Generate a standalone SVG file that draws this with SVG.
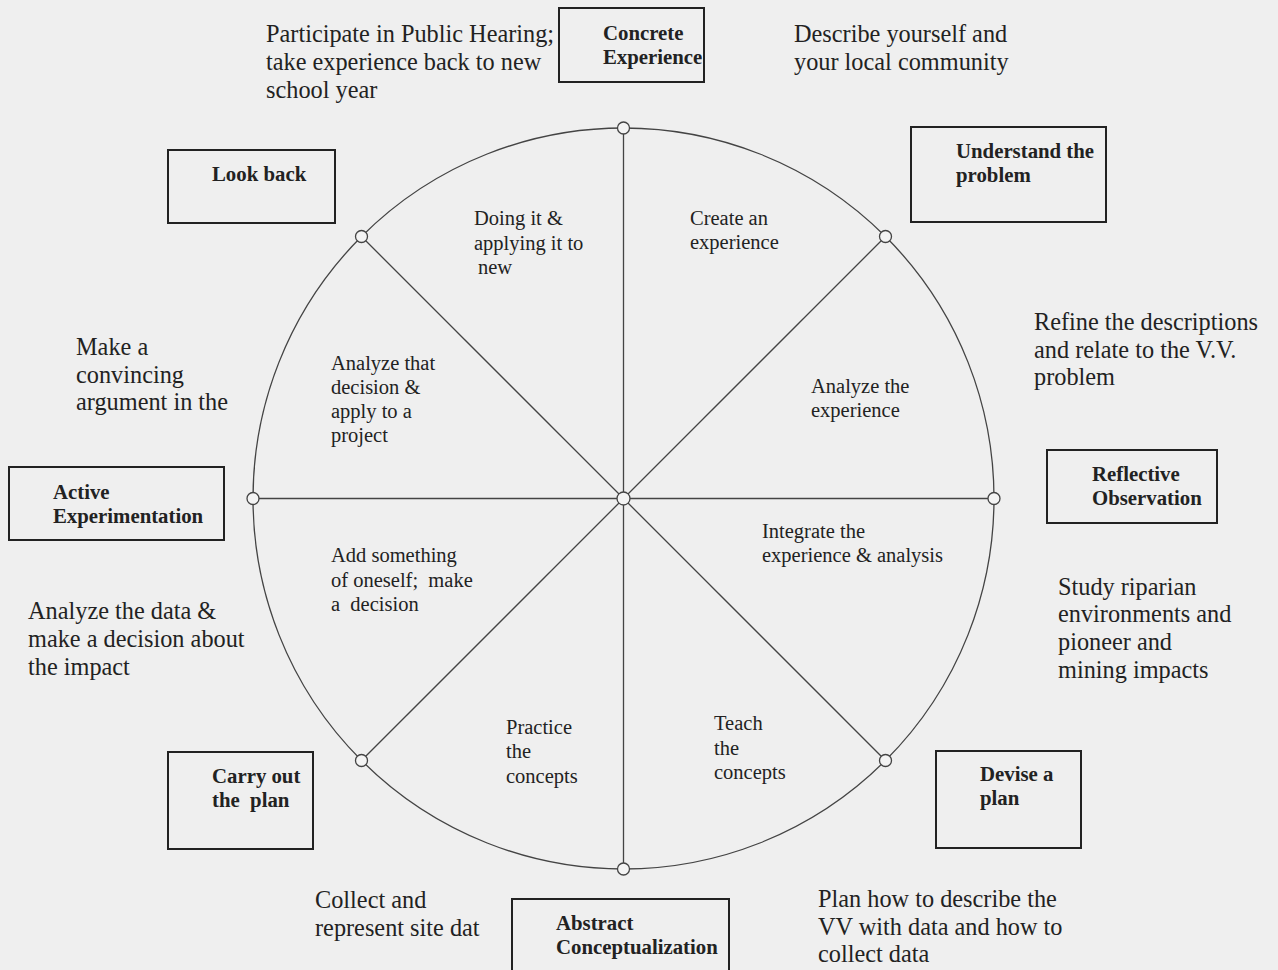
<svg xmlns="http://www.w3.org/2000/svg" width="1278" height="970" viewBox="0 0 1278 970">
<style>
.bg{fill:#efefef}
.box{fill:none;stroke:#222;stroke-width:2}
.ln{stroke:#444;stroke-width:1.3;fill:none}
.dot{fill:#f4f4f4;stroke:#444;stroke-width:1.3}
.bl{font-family:"Liberation Serif",serif;font-weight:bold;font-size:20.8px;fill:#222}
.out{font-family:"Liberation Serif",serif;font-size:24.3px;fill:#222}
.in{font-family:"Liberation Serif",serif;font-size:20.5px;fill:#222}
</style>
<rect class="bg" x="0" y="0" width="1278" height="970"/>
<g id="connectors">
<circle class="ln" cx="623.5" cy="498.5" r="370.5"/>
<line class="ln" x1="623.5" y1="128" x2="623.5" y2="869"/>
<line class="ln" x1="253" y1="498.5" x2="994" y2="498.5"/>
<line class="ln" x1="361.5" y1="236.5" x2="885.5" y2="760.5"/>
<line class="ln" x1="885.5" y1="236.5" x2="361.5" y2="760.5"/>
<circle class="dot" cx="623.5" cy="128" r="6"/>
<circle class="dot" cx="885.5" cy="236.5" r="6"/>
<circle class="dot" cx="994" cy="498.5" r="6"/>
<circle class="dot" cx="885.5" cy="760.5" r="6"/>
<circle class="dot" cx="623.5" cy="869" r="6"/>
<circle class="dot" cx="361.5" cy="760.5" r="6"/>
<circle class="dot" cx="253" cy="498.5" r="6"/>
<circle class="dot" cx="361.5" cy="236.5" r="6"/>
<circle class="dot" cx="623.5" cy="498.5" r="6.5"/>
</g>
<g id="concrete-experience">
<rect class="box" x="559" y="8" width="145" height="74"/>
<text class="bl" x="603" y="40">Concrete</text>
<text class="bl" x="603" y="64">Experience</text>
</g>
<g id="understand-problem">
<rect class="box" x="911" y="127" width="195" height="95"/>
<text class="bl" x="956" y="158">Understand the</text>
<text class="bl" x="956" y="182">problem</text>
</g>
<g id="look-back">
<rect class="box" x="168" y="150" width="167" height="73"/>
<text class="bl" x="212" y="181">Look back</text>
</g>
<g id="active-experimentation">
<rect class="box" x="9" y="467" width="215" height="73"/>
<text class="bl" x="53" y="499">Active</text>
<text class="bl" x="53" y="523">Experimentation</text>
</g>
<g id="reflective-observation">
<rect class="box" x="1047" y="450" width="170" height="73"/>
<text class="bl" x="1092" y="481">Reflective</text>
<text class="bl" x="1092" y="505">Observation</text>
</g>
<g id="carry-out-plan">
<rect class="box" x="168" y="752" width="145" height="97"/>
<text class="bl" x="212" y="783">Carry out</text>
<text class="bl" x="212" y="807" xml:space="preserve">the  plan</text>
</g>
<g id="devise-plan">
<rect class="box" x="936" y="751" width="145" height="97"/>
<text class="bl" x="980" y="781">Devise a</text>
<text class="bl" x="980" y="805">plan</text>
</g>
<g id="abstract-conceptualization">
<rect class="box" x="512" y="899" width="217" height="80"/>
<text class="bl" x="556" y="930">Abstract</text>
<text class="bl" x="556" y="954">Conceptualization</text>
</g>
<g id="outer-texts">
<text class="out" x="266" y="42">Participate in Public Hearing;</text>
<text class="out" x="266" y="70">take experience back to new</text>
<text class="out" x="266" y="98">school year</text>
<text class="out" x="794" y="42">Describe yourself and</text>
<text class="out" x="794" y="70">your local community</text>
<text class="out" x="1034" y="330">Refine the descriptions</text>
<text class="out" x="1034" y="358">and relate to the V.V.</text>
<text class="out" x="1034" y="385">problem</text>
<text class="out" x="76" y="355">Make a</text>
<text class="out" x="76" y="383">convincing</text>
<text class="out" x="76" y="410">argument in the</text>
<text class="out" x="1058" y="595">Study riparian</text>
<text class="out" x="1058" y="622">environments and</text>
<text class="out" x="1058" y="650">pioneer and</text>
<text class="out" x="1058" y="678">mining impacts</text>
<text class="out" x="28" y="619">Analyze the data &amp;</text>
<text class="out" x="28" y="647">make a decision about</text>
<text class="out" x="28" y="675">the impact</text>
<text class="out" x="315" y="908">Collect and</text>
<text class="out" x="315" y="936">represent site dat</text>
<text class="out" x="818" y="907">Plan how to describe the</text>
<text class="out" x="818" y="935">VV with data and how to</text>
<text class="out" x="818" y="962">collect data</text>
</g>
<g id="inner-texts">
<text class="in" x="474" y="225">Doing it &amp;</text>
<text class="in" x="474" y="250">applying it to</text>
<text class="in" x="478" y="274">new</text>
<text class="in" x="690" y="225">Create an</text>
<text class="in" x="690" y="249">experience</text>
<text class="in" x="331" y="370">Analyze that</text>
<text class="in" x="331" y="394">decision &amp;</text>
<text class="in" x="331" y="418">apply to a</text>
<text class="in" x="331" y="442">project</text>
<text class="in" x="811" y="393">Analyze the</text>
<text class="in" x="811" y="417">experience</text>
<text class="in" x="762" y="538">Integrate the</text>
<text class="in" x="762" y="562">experience &amp; analysis</text>
<text class="in" x="331" y="562">Add something</text>
<text class="in" x="331" y="587" xml:space="preserve">of oneself;  make</text>
<text class="in" x="331" y="611" xml:space="preserve">a  decision</text>
<text class="in" x="506" y="734">Practice</text>
<text class="in" x="506" y="758">the</text>
<text class="in" x="506" y="783">concepts</text>
<text class="in" x="714" y="730">Teach</text>
<text class="in" x="714" y="755">the</text>
<text class="in" x="714" y="779">concepts</text>
</g>
</svg>
